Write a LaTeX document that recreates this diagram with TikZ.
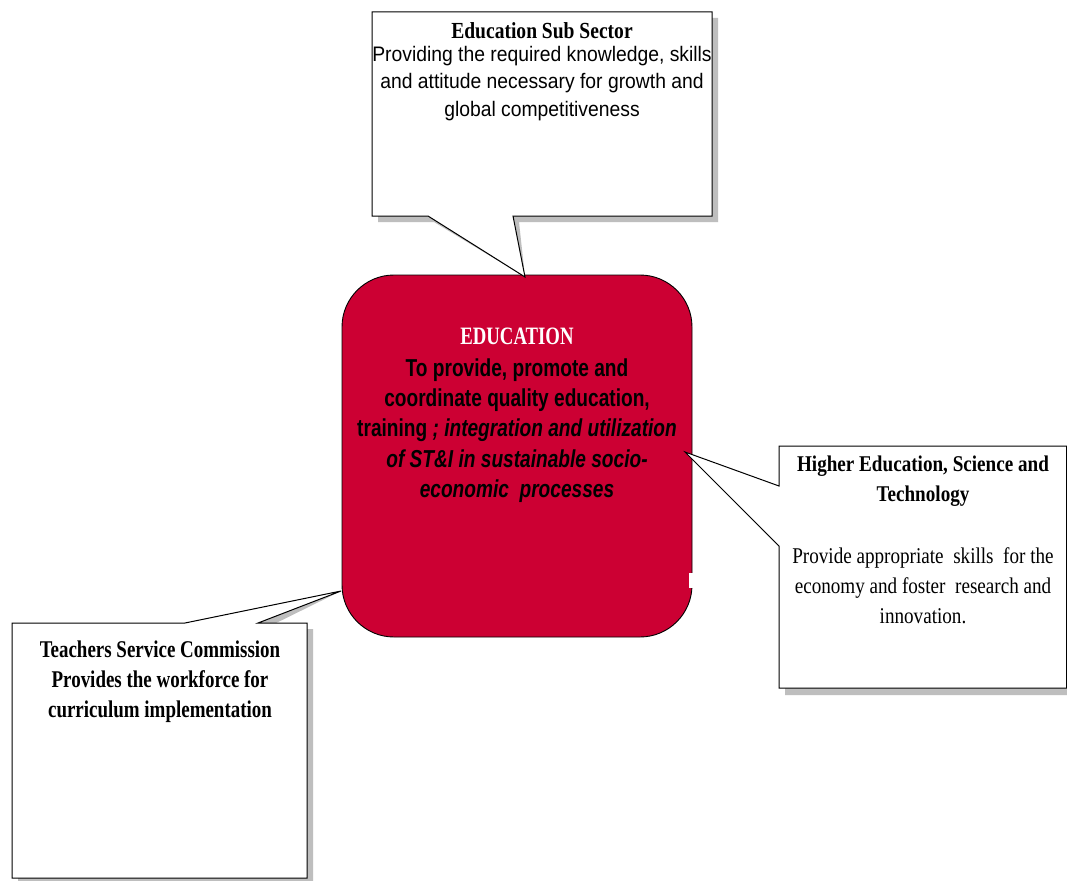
\documentclass[tikz,border=0pt]{standalone}
\usepackage{fontspec}
\setmainfont{Liberation Serif}
\newfontfamily\tbfont[FakeStretch=0.85]{Liberation Serif}
\newfontfamily\tsfont[FakeStretch=0.79]{Liberation Serif}
\newfontfamily\edfont[FakeStretch=0.75]{Liberation Serif}
\newfontfamily\arfont[FakeStretch=0.92]{Liberation Sans}
\newfontfamily\arbfont[FakeStretch=0.78]{Liberation Sans}
\definecolor{educrimson}{RGB}{204,0,51}
\definecolor{shadowgray}{RGB}{190,190,190}
\begin{document}
\begin{tikzpicture}[x=1pt,y=-1pt,
  callout/.style={draw=black, fill=white, line width=1pt, line join=miter},
  calloutshadow/.style={fill=shadowgray, draw=none},
  edubox/.style={draw=black, line width=0.9pt, fill=educrimson, rounded corners=52pt,
    minimum width=350pt, minimum height=362pt, inner sep=0pt},
  txt/.style={align=center, inner sep=0pt, anchor=north}]
\useasboundingbox (0,0) rectangle (1067,880);
\fill[white] (0,0) rectangle (1067,880);

% central box
\node[edubox] (edu) at (517,456) {};
\fill[white] (688.5,573) rectangle (696,588);

% tips of the callouts
\coordinate (subtip) at (525,277);
\coordinate (hesttip) at (685,452);
\coordinate (tsctip) at (341,591);

% top callout
\fill[calloutshadow, shift={(6,6)}] (372,12) -- (712,12) -- (712,216) -- (513,216) -- (subtip) -- (428,216) -- (372,216) -- cycle;
\draw[callout] (372,12) -- (712,12) -- (712,216) -- (513,216) -- (subtip) -- (428,216) -- (372,216) -- cycle;

% right callout
\fill[calloutshadow, shift={(6,7)}] (779,446) -- (1066.5,446) -- (1066.5,688) -- (779,688) -- (779,546) -- (hesttip) -- (779,486) -- cycle;
\draw[callout] (779,446) -- (1066.5,446) -- (1066.5,688) -- (779,688) -- (779,546) -- (hesttip) -- (779,486) -- cycle;

% left callout
\fill[calloutshadow, shift={(6,6)}] (12,623) -- (185,623) -- (tsctip) -- (258,623) -- (307,623) -- (307,878) -- (12,878) -- cycle;
\draw[callout] (12,623) -- (185,623) -- (tsctip) -- (258,623) -- (307,623) -- (307,878) -- (12,878) -- cycle;

% texts
\node[txt, font=\arfont\fontsize{21}{27.5}\selectfont] (subtext) at (542,18)
  {\rule{0pt}{20pt}{\tbfont\bfseries\fontsize{23}{27}\selectfont Education Sub Sector}\\[-4.5pt]
   Providing the required knowledge, skills\\
   and attitude necessary for growth and\\
   global competitiveness};

\node[txt, font=\arbfont\bfseries\fontsize{24.5}{30.3}\selectfont] (edutext) at (517,322)
  {\rule{0pt}{22pt}{\edfont\bfseries\fontsize{25}{30}\selectfont\color{white}EDUCATION}\\[1.7pt]
   To provide, promote and\\
   coordinate quality education,\\
   training \textit{; integration and utilization}\\
   \textit{of ST\&I in sustainable socio-}\\
   \textit{economic\ \ processes}};

\node[txt, font=\tbfont\fontsize{22.5}{30}\selectfont] (hesttext) at (923,451)
  {\rule{0pt}{20pt}\textbf{Higher Education, Science and}\\
   \textbf{Technology}\\[32pt]
   Provide appropriate\ \ skills\ \ for the\\
   economy and foster\ \ research and\\
   innovation.};

\node[txt, font=\tsfont\bfseries\fontsize{24}{30}\selectfont] (tsctext) at (160,637)
  {\rule{0pt}{20pt}Teachers Service Commission\\
   Provides the workforce for\\
   curriculum implementation};
\end{tikzpicture}
\end{document}
